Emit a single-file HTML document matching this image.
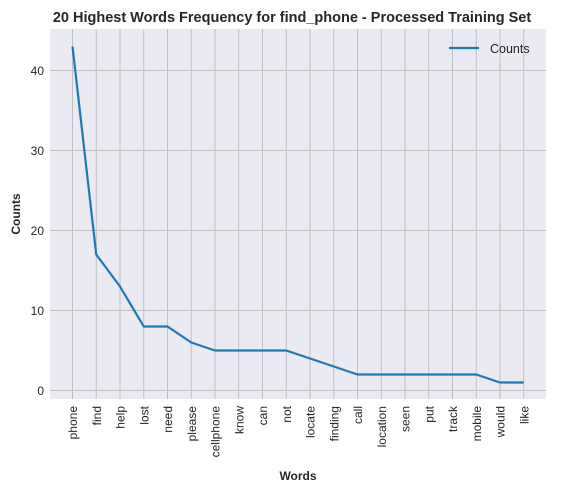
<!DOCTYPE html>
<html><head><meta charset="utf-8"><style>
html,body{margin:0;padding:0;background:#fff;}
svg{display:block;font-family:"Liberation Sans",Arial,sans-serif;}
</style></head><body>
<svg id="chart" width="582" height="493">
<text x="292" y="22" text-anchor="middle" font-size="14.5" font-weight="bold" fill="#262626">20 Highest Words Frequency for find_phone - Processed Training Set</text>
<rect x="50" y="29" width="496" height="370" fill="#eaeaf2"/>
<g id="grid"></g>
<g id="ticks"></g>
<polyline id="line" fill="none" stroke="#1f77b4" stroke-width="2.2" stroke-linejoin="round"/>
<text transform="translate(20,214) rotate(-90)" text-anchor="middle" font-size="12" font-weight="bold" fill="#262626">Counts</text>
<text x="298" y="480" text-anchor="middle" font-size="12" font-weight="bold" fill="#262626">Words</text>
<g>
<line x1="449" y1="48" x2="479" y2="48" stroke="#1f77b4" stroke-width="2.2"/>
<text x="490" y="53" font-size="12.5" fill="#262626">Counts</text>
</g>
</svg>
<script>
const words=["phone","find","help","lost","need","please","cellphone","know","can","not","locate","finding","call","location","seen","put","track","mobile","would","like"];
const counts=[43,17,13,8,8,6,5,5,5,5,4,3,2,2,2,2,2,2,1,1];
const yTicks=[0,10,20,30,40];
const NS="http://www.w3.org/2000/svg";
const x=i=>72.5+i*23.75;
const y=v=>390.5-v*8;
const grid=document.getElementById('grid'),ticks=document.getElementById('ticks');
function mk(tag,attrs,parent){const e=document.createElementNS(NS,tag);for(const k in attrs)e.setAttribute(k,attrs[k]);parent.appendChild(e);return e;}
yTicks.forEach(t=>{
  const l=mk('line',{x1:50,x2:546,y1:y(t),y2:y(t),stroke:'#bfbfbf','stroke-width':1},grid);
  
  
  const tx=mk('text',{x:44,y:y(t)+4.5,'text-anchor':'end','font-size':12,fill:'#262626'},ticks);
  tx.textContent=t;
  
  
});
words.forEach((w,i)=>{
  const l=mk('line',{x1:x(i),x2:x(i),y1:29,y2:399,stroke:'#bfbfbf','stroke-width':1},grid);
  
  
  const tx=mk('text',{transform:`translate(${x(i)+4.5},406) rotate(-90)`,'text-anchor':'end','font-size':12,fill:'#262626'},ticks);
  tx.textContent=w;
  
  
});
document.getElementById('line').setAttribute('points',counts.map((c,i)=>x(i)+','+y(c)).join(' '));
</script>
</body></html>
